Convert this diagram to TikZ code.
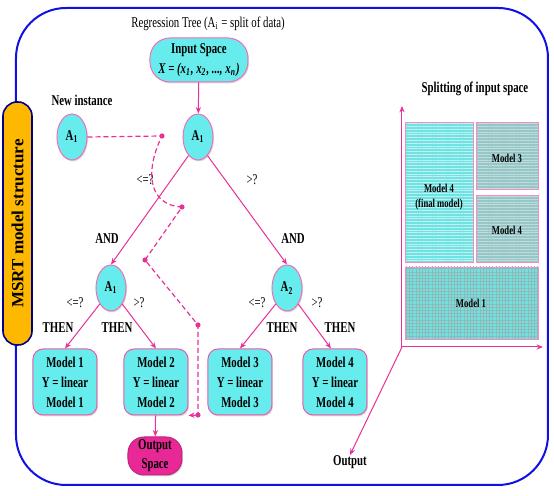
\documentclass[tikz,border=0pt]{standalone}
\usepackage{fontspec}
\setmainfont{Liberation Serif}[FakeStretch=0.72]
\newfontfamily\sidefont{Liberation Serif}
\usetikzlibrary{arrows.meta,shapes.geometric,patterns.meta,shadows}

\definecolor{treecyan}{RGB}{102,236,236}
\definecolor{treepink}{RGB}{232,48,150}
\definecolor{framecol}{RGB}{16,16,228}
\definecolor{stripcol}{RGB}{255,184,0}
\definecolor{outcol}{RGB}{232,40,150}
\definecolor{areacyan}{RGB}{112,226,226}
\definecolor{areagray}{RGB}{150,198,198}

\tikzset{
  splitnode/.style={ellipse, draw=treepink!70, line width=0.5pt, fill=treecyan, minimum width=15pt, minimum height=23pt, inner sep=0pt, font=\bfseries\fontsize{7.5}{9}\selectfont, drop shadow={shadow xshift=0.5pt, shadow yshift=-0.7pt, opacity=0.3}},
  modelbox/.style={rectangle, rounded corners=5pt, draw=treepink!80, line width=0.5pt, fill=treecyan, minimum width=32pt, minimum height=33pt, inner sep=1pt, align=center, font=\bfseries\fontsize{7.5}{10}\selectfont, drop shadow={shadow xshift=0.5pt, shadow yshift=-0.7pt, opacity=0.3}},
  treeedge/.style={treepink, line width=0.5pt, -{Stealth[length=3.2pt,width=2.6pt]}},
  pathedge/.style={treepink, line width=0.6pt, dash pattern=on 2.5pt off 1.5pt},
  lbl/.style={font=\bfseries\fontsize{7.5}{9}\selectfont, inner sep=0pt},
  cond/.style={font=\fontsize{7.5}{9}\selectfont, inner sep=0pt},
  areabox/.style={draw=treepink!55, line width=0.4pt},
  arealbl/.style={font=\bfseries\fontsize{6}{7.5}\selectfont, align=center, inner sep=0pt},
}

\begin{document}
\begin{tikzpicture}[x=0.5pt, y=-0.5pt]
		%%%%% START %%%%%
		\useasboundingbox (0, 0) rectangle (554, 496);
		
		\draw[framecol, line width=1pt, rounded corners=25pt] (16, 8) rectangle (548, 485);
		\node[rectangle, rotate=90, rounded corners=7pt, draw=blue!55!black, line width=0.8pt, fill=stripcol, minimum width=121.5pt, minimum height=14.5pt, font=\sidefont\bfseries\fontsize{8.5}{10}\selectfont] (strip) at (17.5, 223.5) {MSRT model structure};
		
		\node[font=\fontsize{7.5}{9}\selectfont] (title) at (208, 24) {Regression Tree (A\textsubscript{i} = split of data)};
		\node[rectangle, rounded corners=10pt, draw=treepink!70, line width=0.5pt, fill=treecyan, minimum width=49pt, minimum height=22pt, inner sep=1pt, align=center, font=\bfseries\fontsize{7.5}{10}\selectfont, drop shadow={shadow xshift=0.5pt, shadow yshift=-0.7pt, opacity=0.3}] (input) at (199, 60) {Input Space\\ \itshape X = (x\textsubscript{1}, x\textsubscript{2}, ..., x\textsubscript{n})};
		
		\node[lbl] (newlbl) at (82, 100) {New instance};
		\node[splitnode] (newA) at (72, 137) {A\textsubscript{1}};
		\node[splitnode] (root) at (198, 137) {A\textsubscript{1}};
		\node[splitnode] (leftA) at (111, 288) {A\textsubscript{1}};
		\node[splitnode] (rightA) at (287, 288) {A\textsubscript{2}};
		
		\node[modelbox] (m1) at (65, 382) {Model 1\\Y = linear\\Model 1};
		\node[modelbox] (m2) at (156, 382) {Model 2\\Y = linear\\Model 2};
		\node[modelbox] (m3) at (240, 382) {Model 3\\Y = linear\\Model 3};
		\node[modelbox] (m4) at (335, 382) {Model 4\\Y = linear\\Model 4};
		\node[rectangle, rounded corners=8pt, draw=treepink!80!black, line width=0.5pt, fill=outcol, minimum width=27pt, minimum height=19pt, inner sep=1pt, align=center, font=\bfseries\fontsize{7.5}{9.5}\selectfont, drop shadow={shadow xshift=0.5pt, shadow yshift=-0.7pt, opacity=0.3}] (outsp) at (155, 456) {Output\\Space};
		
		\draw[treeedge] (input) -- (root);
		\draw[treeedge] (root.243) -- (leftA.north);
		\draw[treeedge] (root.297) -- (rightA.north);
		\draw[treeedge] (leftA.235) -- (m1.north);
		\draw[treeedge] (leftA.305) -- (m2.north);
		\draw[treeedge] (rightA.235) -- (m3.north);
		\draw[treeedge] (rightA.305) -- ([xshift=-2pt]m4.north);
		\draw[treeedge] (m2) -- (outsp);
		
		\node[cond] (c1) at (145, 180) {<=?};
		\node[cond] (c2) at (252, 180) {>?};
		\node[lbl] (and1) at (107, 239) {AND};
		\node[lbl] (and2) at (293, 239) {AND};
		\node[cond] (c3) at (75, 303) {<=?};
		\node[cond] (c4) at (139, 303) {>?};
		\node[cond] (c5) at (257, 303) {<=?};
		\node[cond] (c6) at (317, 303) {>?};
		\node[lbl] (then1) at (58, 328) {THEN};
		\node[lbl] (then2) at (117, 328) {THEN};
		\node[lbl] (then3) at (282, 328) {THEN};
		\node[lbl] (then4) at (340, 328) {THEN};
		
		% route of the new instance
		\coordinate (p1) at (162, 136);
		\coordinate (p2) at (182, 207);
		\coordinate (p3) at (145, 260);
		\coordinate (p4) at (198, 325);
		\coordinate (p5) at (198, 415);
		\draw[pathedge] (newA.east) -- (p1) .. controls (146, 168) and (146, 205) .. (p2) -- (p3) -- (p4) -- (p5);
		\draw[pathedge, -{Stealth[length=3pt,width=2.6pt]}] (p5) -- (m2.south east);
		\foreach \p in {p1, p2, p3, p4, p5}
			\fill[treepink] (\p) circle (1.3pt);
		
		% splitting of input space
		\node[lbl] (splitlbl) at (475, 89) {Splitting of input space};
		\coordinate (orig) at (402, 347);
		\coordinate (yend) at (402, 106);
		\coordinate (xend) at (543, 347);
		\node[lbl] (outlbl) at (350, 462) {Output};
		\draw[treeedge] (orig) -- (yend);
		\draw[treeedge] (orig) -- (xend);
		\draw[treeedge] (orig) -- (outlbl.north);
		
		\draw[areabox, preaction={fill=areacyan}, pattern={Lines[angle=0, distance=1.4pt, line width=0.3pt]}, pattern color=white!55!areacyan] (405, 122) rectangle (473, 262);
		\draw[areabox, preaction={fill=areagray}, pattern={Lines[angle=0, distance=1.4pt, line width=0.3pt]}, pattern color=white!40!areagray] (476, 122) rectangle (538, 189);
		\draw[areabox, preaction={fill=areagray}, pattern={Lines[angle=0, distance=1.4pt, line width=0.3pt]}, pattern color=white!40!areagray] (476, 195) rectangle (538, 262);
		\draw[areabox, preaction={fill=areacyan}, pattern={Hatch[angle=0, distance=1.6pt, line width=0.3pt]}, pattern color=areagray!80!gray] (405, 267) rectangle (538, 339);
		
		\node[arealbl] (r4) at (439, 197) {Model 4\\(final model)};
		\node[arealbl] (r3) at (507, 158) {Model 3};
		\node[arealbl] (r4b) at (507, 230) {Model 4};
		\node[arealbl] (r1) at (471, 303) {Model 1};
		
		%%%%% END %%%%%
\end{tikzpicture}
\end{document}
